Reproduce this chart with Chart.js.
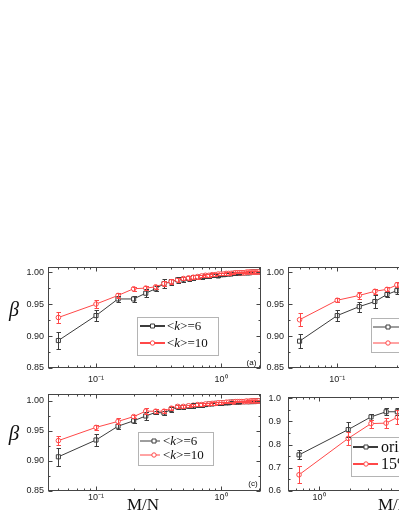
<!DOCTYPE html>
<html>
<head>
<meta charset="utf-8">
<script src="https://cdn.jsdelivr.net/npm/chart.js@4.4.1/dist/chart.umd.min.js"></script>
<style>
html, body { margin: 0; padding: 0; background: #fff; overflow: hidden; width: 399px; height: 516px; }
canvas { position: absolute; }
</style>
</head>
<body>
<canvas id="pa" width="266" height="130" style="left:0px;top:255px"></canvas>
<canvas id="pc" width="266" height="131" style="left:0px;top:385px"></canvas>
<canvas id="pb" width="245" height="130" style="left:262px;top:255px"></canvas>
<canvas id="pd" width="165" height="131" style="left:262px;top:385px"></canvas>
<script>
// M/N values for panels (a) and (c)
var mn = [0.05, 0.1, 0.15, 0.2, 0.25, 0.3, 0.35, 0.4, 0.45, 0.5, 0.55, 0.6, 0.65, 0.7, 0.75, 0.8, 0.85, 0.9, 0.95, 1.0,
          1.05, 1.1, 1.15, 1.2, 1.25, 1.3, 1.35, 1.4, 1.45, 1.5, 1.55, 1.6, 1.65, 1.7, 1.75, 1.8, 1.85, 1.9, 1.95, 2.0];

// panel (a)
var betaA6  = [0.893, 0.932, 0.958, 0.958, 0.967, 0.974, 0.982, 0.985, 0.988, 0.989, 0.990, 0.991, 0.992, 0.993, 0.994, 0.994, 0.995, 0.995, 0.994, 0.996,
               0.996, 0.997, 0.997, 0.997, 0.998, 0.998, 0.998, 0.998, 0.999, 0.999, 0.999, 0.999, 0.999, 0.999, 1.000, 1.000, 1.000, 1.000, 1.000, 1.000];
var errA6   = [0.014, 0.008, 0.005, 0.005, 0.006, 0.004, 0.007, 0.005, 0.005, 0.004, 0.004, 0.004, 0.003, 0.003, 0.003, 0.003, 0.003, 0.002, 0.002, 0.002,
               0.002, 0.002, 0.002, 0.002, 0.002, 0.002, 0.001, 0.001, 0.001, 0.001, 0.001, 0.001, 0.001, 0.001, 0.001, 0.001, 0.001, 0.001, 0.001, 0.001];
var betaA10 = [0.929, 0.950, 0.9635, 0.974, 0.975, 0.977, 0.982, 0.985, 0.988, 0.990, 0.991, 0.992, 0.993, 0.994, 0.995, 0.995, 0.996, 0.996, 0.997, 0.997,
               0.997, 0.998, 0.998, 0.998, 0.998, 0.999, 0.999, 0.999, 0.999, 0.999, 0.999, 1.000, 1.000, 1.000, 1.000, 1.000, 1.000, 1.000, 1.000, 1.000];
var errA10  = [0.009, 0.006, 0.004, 0.003, 0.003, 0.003, 0.004, 0.004, 0.003, 0.003, 0.003, 0.003, 0.003, 0.002, 0.002, 0.002, 0.002, 0.002, 0.002, 0.002,
               0.002, 0.002, 0.002, 0.001, 0.001, 0.001, 0.001, 0.001, 0.001, 0.001, 0.001, 0.001, 0.001, 0.001, 0.001, 0.001, 0.001, 0.001, 0.001, 0.001];

// panel (c)
var betaC6  = [0.907, 0.935, 0.958, 0.967, 0.975, 0.981, 0.980, 0.986, 0.990, 0.990, 0.991, 0.992, 0.993, 0.993, 0.994, 0.995, 0.995, 0.996, 0.996, 0.996,
               0.997, 0.997, 0.997, 0.998, 0.998, 0.998, 0.998, 0.998, 0.999, 0.999, 0.999, 0.999, 0.999, 0.999, 0.999, 1.000, 0.999, 1.000, 1.000, 1.000];
var errC6   = [0.015, 0.010, 0.004, 0.004, 0.007, 0.003, 0.004, 0.004, 0.004, 0.004, 0.003, 0.004, 0.003, 0.003, 0.003, 0.002, 0.002, 0.002, 0.002, 0.002,
               0.002, 0.002, 0.002, 0.002, 0.001, 0.001, 0.001, 0.001, 0.001, 0.001, 0.001, 0.001, 0.001, 0.001, 0.001, 0.001, 0.001, 0.001, 0.001, 0.001];
var betaC10 = [0.934, 0.956, 0.966, 0.974, 0.983, 0.983, 0.983, 0.988, 0.991, 0.991, 0.992, 0.993, 0.994, 0.994, 0.995, 0.995, 0.996, 0.996, 0.997, 0.997,
               0.997, 0.998, 0.998, 0.998, 0.998, 0.999, 0.999, 0.999, 0.999, 0.999, 0.999, 1.000, 0.999, 1.000, 1.000, 1.000, 1.000, 1.000, 1.000, 1.000];
var errC10  = [0.008, 0.004, 0.005, 0.003, 0.005, 0.003, 0.003, 0.003, 0.003, 0.003, 0.002, 0.002, 0.002, 0.002, 0.002, 0.002, 0.002, 0.002, 0.002, 0.002,
               0.001, 0.001, 0.001, 0.001, 0.001, 0.001, 0.001, 0.001, 0.001, 0.001, 0.001, 0.001, 0.001, 0.001, 0.001, 0.001, 0.001, 0.001, 0.001, 0.001];

// panel (b), only the left part is in view
var mnB     = [0.05, 0.1, 0.15, 0.2, 0.25, 0.3, 0.35];
var betaB6  = [0.892, 0.932, 0.946, 0.954, 0.965, 0.971, 0.976];
var errB6   = [0.011, 0.009, 0.008, 0.010, 0.004, 0.005, 0.005];
var betaB10 = [0.9255, 0.956, 0.9635, 0.970, 0.973, 0.980, 0.983];
var errB10  = [0.010, 0.003, 0.005, 0.004, 0.003, 0.004, 0.004];

// panel (d)
var mnD      = [0.64, 1.92, 3.2, 4.48, 5.76];
var betaDori = [0.756, 0.865, 0.920, 0.942, 0.942];
var errDori  = [0.020, 0.032, 0.012, 0.016, 0.015];
var betaD15  = [0.670, 0.827, 0.891, 0.893, 0.918];
var errD15   = [0.036, 0.027, 0.017, 0.020, 0.030];

var namesK = ['<k>=6', '<k>=10'];
var namesD = ['original', '15%'];
var ticks2 = [0.85, 0.90, 0.95, 1.00];
var ticksD = [0.6, 0.7, 0.8, 0.9, 1.0];

var BLACK = '#3c3c3c';
var RED = '#ff4848';
var FRAME = '#454545';

function richText(ctx, txt, x, y, size) {
    var parts = txt.split(/(k)/);
    parts.forEach(function (p) {
        if (!p) return;
        ctx.font = (p === 'k' ? 'italic ' : '') + size + 'px "Liberation Serif"';
        ctx.fillText(p, x, y);
        x += ctx.measureText(p).width;
    });
}

var deco = {
    id: 'deco',
    afterDatasetsDraw: function (chart, args, o) {
        var ctx = chart.ctx, a = chart.chartArea, ys = chart.scales.y;
        ctx.save();
        ctx.beginPath();
        ctx.rect(a.left, a.top, a.right - a.left, a.bottom - a.top);
        ctx.clip();
        ctx.lineWidth = 1;
        chart.data.datasets.forEach(function (ds, i) {
            var meta = chart.getDatasetMeta(i);
            ctx.strokeStyle = ds.borderColor;
            meta.data.forEach(function (pt, j) {
                var v = ds.data[j].y, e = ds.err[j];
                var x = Math.round(pt.x) + 0.5;
                var y1 = Math.round(ys.getPixelForValue(v + e)) + 0.5;
                var y2 = Math.round(ys.getPixelForValue(v - e)) + 0.5;
                ctx.beginPath();
                ctx.moveTo(x, y1); ctx.lineTo(x, y2);
                ctx.moveTo(x - 2, y1); ctx.lineTo(x + 2.5, y1);
                ctx.moveTo(x - 2, y2); ctx.lineTo(x + 2.5, y2);
                ctx.stroke();
            });
        });
        ctx.restore();
    },
    afterDraw: function (chart, args, o) {
        var ctx = chart.ctx, a = chart.chartArea, xs = chart.scales.x, ys = chart.scales.y;
        var L = Math.round(a.left) + 0.5, R = Math.round(a.right) - 0.5;
        var T = Math.round(a.top) + 0.5, B = Math.round(a.bottom) - 0.5;
        ctx.save();
        ctx.strokeStyle = FRAME;
        ctx.lineWidth = 1;
        ctx.strokeRect(L, T, R - L, B - T);

        // inward ticks on all four sides
        ctx.beginPath();
        o.yMajor.concat(o.yMinor).forEach(function (v, i) {
            var len = i < o.yMajor.length ? 4 : 2;
            var y = Math.round(ys.getPixelForValue(v)) + 0.5;
            ctx.moveTo(L, y); ctx.lineTo(L + len, y);
            ctx.moveTo(R, y); ctx.lineTo(R - len, y);
        });
        var lo = Math.floor(Math.log10(xs.min)), hi = Math.ceil(Math.log10(xs.max));
        for (var d = lo; d <= hi; d++) {
            for (var m = 1; m < 10; m++) {
                var v = m * Math.pow(10, d);
                if (v < xs.min || v > xs.max) continue;
                var len = m === 1 ? 4 : 2;
                var x = Math.round(xs.getPixelForValue(v)) + 0.5;
                ctx.moveTo(x, B); ctx.lineTo(x, B - len);
                ctx.moveTo(x, T); ctx.lineTo(x, T + len);
            }
        }
        ctx.stroke();

        // page coordinates from here
        ctx.translate(-o.ox, -o.oy);

        var lg = o.legend;
        ctx.fillStyle = '#fff';
        ctx.fillRect(lg.box[0], lg.box[1], lg.box[2], lg.box[3]);
        ctx.strokeStyle = '#b4b4b4';
        ctx.strokeRect(lg.box[0] + 0.5, lg.box[1] + 0.5, lg.box[2], lg.box[3]);
        lg.rows.forEach(function (r, i) {
            var ds = chart.data.datasets[i];
            ctx.strokeStyle = ds.borderColor;
            ctx.lineWidth = lg.lw;
            ctx.beginPath();
            ctx.moveTo(lg.x1, r); ctx.lineTo(lg.x2, r);
            ctx.stroke();
            ctx.lineWidth = 1;
            ctx.fillStyle = '#fff';
            ctx.beginPath();
            if (ds.pointStyle === 'rect') {
                ctx.rect(lg.mx - 2, r - 2, 4, 4);
            } else {
                ctx.arc(lg.mx, r, 2.2, 0, Math.PI * 2);
            }
            ctx.fill();
            ctx.stroke();
            ctx.fillStyle = '#111';
            ctx.textBaseline = 'middle';
            ctx.textAlign = 'left';
            richText(ctx, ds.label, lg.tx, r + 0.5, lg.size);
        });

        ctx.fillStyle = '#111';
        if (o.tag) {
            ctx.font = '8px "Liberation Sans"';
            ctx.textAlign = 'center';
            ctx.textBaseline = 'middle';
            ctx.fillText(o.tag[0], o.tag[1], o.tag[2]);
        }
        if (o.beta) {
            ctx.font = 'italic ' + o.beta[2] + 'px "Liberation Serif"';
            ctx.textAlign = 'center';
            ctx.textBaseline = 'alphabetic';
            ctx.fillText('\u03b2', o.beta[0], o.beta[1]);
        }
        if (o.xTitle) {
            ctx.font = '17px "Liberation Serif"';
            ctx.textAlign = 'left';
            ctx.textBaseline = 'alphabetic';
            ctx.fillText('M/N', o.xTitle[0], o.xTitle[1]);
        }
        ctx.restore();
    }
};

function supLabel(v) {
    if (Math.abs(v - 0.1) < 1e-9) return '10\u207b\u00b9';
    if (Math.abs(v - 1) < 1e-9) return '10\u2070';
    return '';
}

function panel(id, p) {
    var tickFont = { family: 'Liberation Sans', size: 9 };
    return new Chart(document.getElementById(id), {
        type: 'line',
        data: {
            datasets: [{
                label: p.names[0],
                data: p.x.map(function (v, i) { return { x: v, y: p.y1[i] }; }),
                err: p.e1,
                borderColor: BLACK,
                backgroundColor: '#fff',
                borderWidth: 1,
                pointStyle: 'rect',
                pointRadius: 2.9,
                pointBorderWidth: 1,
                order: 1
            }, {
                label: p.names[1],
                data: p.x.map(function (v, i) { return { x: v, y: p.y2[i] }; }),
                err: p.e2,
                borderColor: RED,
                backgroundColor: '#fff',
                borderWidth: 1,
                pointStyle: 'circle',
                pointRadius: 2.3,
                pointBorderWidth: 1,
                order: 0
            }]
        },
        options: {
            responsive: false,
            animation: false,
            events: [],
            layout: { padding: { left: 0, top: p.top, right: p.right, bottom: 0 } },
            plugins: {
                legend: { display: false },
                tooltip: { enabled: false },
                deco: p.deco
            },
            scales: {
                x: {
                    type: 'logarithmic',
                    min: p.xmin,
                    max: p.xmax,
                    grid: { display: false, drawTicks: false },
                    border: { display: false },
                    afterFit: function (s) { s.height = p.xh; },
                    afterBuildTicks: function (s) { s.ticks = p.xMajor.map(function (v) { return { value: v }; }); },
                    ticks: { autoSkip: false, maxRotation: 0, padding: p.xpad, font: tickFont, color: '#222', callback: supLabel }
                },
                y: {
                    type: 'linear',
                    min: p.ymin,
                    max: p.ymax,
                    grid: { display: false, drawTicks: false },
                    border: { display: false },
                    afterFit: function (s) { s.width = p.yw; },
                    afterBuildTicks: function (s) { s.ticks = p.yTicks.map(function (v) { return { value: v }; }); },
                    ticks: { padding: p.ypad, font: tickFont, color: '#222', callback: function (v) { return v.toFixed(p.dec); } }
                }
            }
        },
        plugins: [deco]
    });
}

panel('pa', {
    x: mn, y1: betaA6, e1: errA6, y2: betaA10, e2: errA10, names: namesK,
    xmin: 0.0413, xmax: 2.089, ymin: 0.85, ymax: 1.008, yTicks: ticks2, dec: 2,
    xMajor: [0.1, 1], top: 12, right: 5, xh: 17, yw: 48, xpad: 6, ypad: 4,
    deco: {
        ox: 0, oy: 255, yMajor: ticks2, yMinor: [0.875, 0.925, 0.975],
        legend: { box: [137, 317, 81, 38], x1: 140, x2: 165, mx: 152.5, tx: 167, rows: [326, 343], lw: 2, size: 13 },
        tag: ['(a)', 251.5, 362.5], beta: [14, 316, 20]
    }
});

panel('pc', {
    x: mn, y1: betaC6, e1: errC6, y2: betaC10, e2: errC10, names: namesK,
    xmin: 0.0413, xmax: 2.089, ymin: 0.85, ymax: 1.011, yTicks: ticks2, dec: 2,
    xMajor: [0.1, 1], top: 2, right: 5, xh: 25, yw: 48, xpad: 1, ypad: 4,
    deco: {
        ox: 0, oy: 385, yMajor: ticks2, yMinor: [0.875, 0.925, 0.975],
        legend: { box: [138, 432, 75, 33], x1: 140, x2: 160, mx: 154, tx: 163, rows: [441, 455], lw: 1, size: 13 },
        tag: ['(c)', 253, 484], beta: [14, 440, 21], xTitle: [127, 510]
    }
});

panel('pb', {
    x: mnB, y1: betaB6, e1: errB6, y2: betaB10, e2: errB10, names: namesK,
    xmin: 0.0404, xmax: 2.08, ymin: 0.85, ymax: 1.008, yTicks: ticks2, dec: 2,
    xMajor: [0.1, 1], top: 12, right: 5, xh: 17, yw: 26, xpad: 6, ypad: 4,
    deco: {
        ox: 262, oy: 255, yMajor: ticks2, yMinor: [0.875, 0.925, 0.975],
        legend: { box: [371, 318, 80, 34], x1: 373, x2: 402, mx: 388, tx: 405, rows: [327, 343], lw: 1, size: 13 }
    }
});

panel('pd', {
    x: mnD, y1: betaDori, e1: errDori, y2: betaD15, e2: errD15, names: namesD,
    xmin: 0.5, xmax: 10, ymin: 0.6, ymax: 1.004, yTicks: ticksD, dec: 1,
    xMajor: [1], top: 4, right: 5, xh: 25, yw: 26, xpad: 1, ypad: 7,
    deco: {
        ox: 262, oy: 385, yMajor: ticksD, yMinor: [0.65, 0.75, 0.85, 0.95],
        legend: { box: [351, 437, 90, 39], x1: 353, x2: 378, mx: 366, tx: 381, rows: [447, 464], lw: 2, size: 16 },
        xTitle: [378, 510]
    }
});
</script>
</body>
</html>
